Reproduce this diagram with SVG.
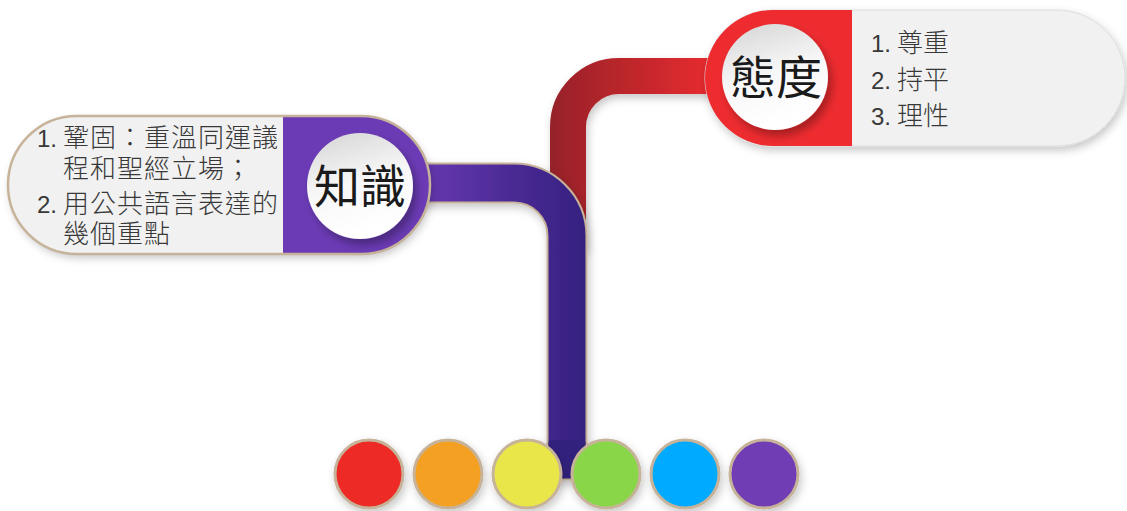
<svg xmlns="http://www.w3.org/2000/svg" width="1127" height="511" viewBox="0 0 1127 511">
  <defs>
    <linearGradient id="gRed" gradientUnits="userSpaceOnUse" x1="550" y1="0" x2="725" y2="0">
      <stop offset="0" stop-color="#962229"/>
      <stop offset="1" stop-color="#ee2c30"/>
    </linearGradient>
    <linearGradient id="gPurple" gradientUnits="userSpaceOnUse" x1="410" y1="0" x2="590" y2="0">
      <stop offset="0" stop-color="#6a39b3"/>
      <stop offset="1" stop-color="#33207e"/>
    </linearGradient>
    <linearGradient id="gBall" x1="0" y1="0" x2="0.3" y2="1">
      <stop offset="0" stop-color="#d4d4d4"/>
      <stop offset="0.55" stop-color="#f7f7f7"/>
      <stop offset="1" stop-color="#ffffff"/>
    </linearGradient>
    <filter id="shadow" x="-20%" y="-20%" width="140%" height="150%">
      <feDropShadow dx="2" dy="4" stdDeviation="4" flood-color="#000" flood-opacity="0.22"/>
    </filter>
    <filter id="ballShadow" x="-30%" y="-30%" width="170%" height="170%">
      <feDropShadow dx="4" dy="6" stdDeviation="4" flood-color="#000" flood-opacity="0.3"/>
    </filter>
    <clipPath id="clipRed">
      <rect x="705" y="10" width="420" height="136" rx="68"/>
    </clipPath>
    <clipPath id="clipPurple">
      <rect x="8" y="116" width="422" height="138" rx="69"/>
    </clipPath>
  </defs>
  <style>
    .pipeBorder { fill: none; stroke: #c6b39a; stroke-width: 41; }
    .list { font-family: "Liberation Sans", "Noto Sans CJK TC", sans-serif; font-size: 26px; font-weight: 300; fill: #383838; }
    .num { font-size: 24px; letter-spacing: 0; }
    .wide { letter-spacing: 1px; }
    .title { font-family: "Noto Sans CJK TC", sans-serif; font-size: 46px; fill: #1a1a1a; text-anchor: middle; }
    .dot { stroke: #c6b39a; stroke-width: 3; }
  </style>

  <g id="connectors">
    <path filter="url(#shadow)" d="M 568 250 V 127 A 51 51 0 0 1 619 76 H 740" fill="none" stroke="url(#gRed)" stroke-width="36"/>
    <g filter="url(#shadow)">
      <path class="pipeBorder" d="M 400 183 H 514 A 53 53 0 0 1 567 236 V 470"/>
      <rect x="546.5" y="440" width="41" height="40.5" rx="4" fill="#c6b39a"/>
      <path d="M 400 183 H 514 A 53 53 0 0 1 567 236 V 470" fill="none" stroke="url(#gPurple)" stroke-width="37"/>
      <rect x="548.5" y="440" width="37" height="38.5" rx="3" fill="#33207e"/>
    </g>
  </g>

  <g id="node-taidu">
    <rect x="705" y="10" width="420" height="136" rx="68" fill="#f1f1f1" stroke="#dcdcdc" stroke-width="1" filter="url(#shadow)"/>
    <rect x="700" y="5" width="152" height="146" fill="#ee2c30" clip-path="url(#clipRed)"/>
    <circle cx="775" cy="77" r="53" fill="url(#gBall)" filter="url(#ballShadow)"/>
    <text class="title" x="776" y="94">態度</text>
    <text class="list"><tspan class="num" x="871" y="52">1.</tspan><tspan x="897" y="52">尊重</tspan></text>
    <text class="list"><tspan class="num" x="871" y="89">2.</tspan><tspan x="897" y="89">持平</tspan></text>
    <text class="list"><tspan class="num" x="871" y="125">3.</tspan><tspan x="897" y="125">理性</tspan></text>
  </g>

  <g id="node-zhishi">
    <rect x="8" y="116" width="422" height="138" rx="69" fill="#f1f1f1" filter="url(#shadow)"/>
    <rect x="283" y="110" width="152" height="150" fill="#6b3bb5" clip-path="url(#clipPurple)"/>
    <rect x="8" y="116" width="422" height="138" rx="69" fill="none" stroke="#c6b39a" stroke-width="2.5"/>
    <circle cx="360" cy="186" r="53" fill="url(#gBall)" filter="url(#ballShadow)"/>
    <text class="title" x="360" y="203">知識</text>
    <text class="list wide"><tspan class="num" x="37" y="147">1.</tspan><tspan x="63" y="147">鞏固：重溫同運議</tspan></text>
    <text class="list wide"><tspan x="63" y="178">程和聖經立場；</tspan></text>
    <text class="list wide"><tspan class="num" x="37" y="213">2.</tspan><tspan x="63" y="213">用公共語言表達的</tspan></text>
    <text class="list wide"><tspan x="63" y="243">幾個重點</tspan></text>
  </g>

  <g id="dots" filter="url(#shadow)">
    <g id="dot-red"><circle class="dot" cx="369" cy="474" r="34" fill="#ee2a26"/></g>
    <g id="dot-orange"><circle class="dot" cx="448" cy="474" r="34" fill="#f4a021"/></g>
    <g id="dot-yellow"><circle class="dot" cx="527" cy="474" r="34" fill="#e8e64a"/></g>
    <g id="dot-green"><circle class="dot" cx="606" cy="474" r="34" fill="#8ad64a"/></g>
    <g id="dot-blue"><circle class="dot" cx="685" cy="474" r="34" fill="#00aaff"/></g>
    <g id="dot-purple"><circle class="dot" cx="764" cy="474" r="34" fill="#6f3cb5"/></g>
  </g>
</svg>
